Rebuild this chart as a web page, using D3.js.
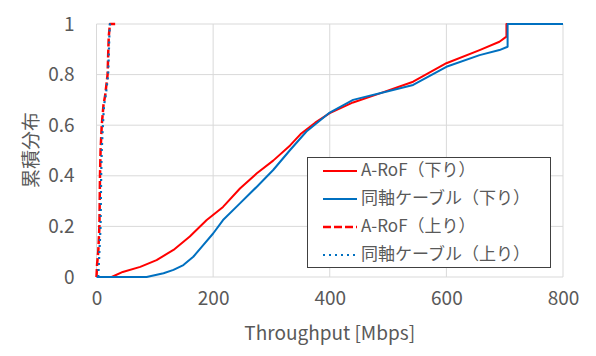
<!DOCTYPE html>
<html><head><meta charset="utf-8">
<script src="https://cdn.jsdelivr.net/npm/d3@7"></script>
<style>body{margin:0;background:#fff;} svg{display:block;}</style>
</head><body>
<svg id="c" width="596" height="356"></svg>
<script>
const xTicks = [0, 200, 400, 600, 800];
const yTicks = [0, 0.2, 0.4, 0.6, 0.8, 1];
const yTickLabels = ["0", "0.2", "0.4", "0.6", "0.8", "1"];
const seriesNames = ["A-RoF（下り）", "同軸ケーブル（下り）", "A-RoF（上り）", "同軸ケーブル（上り）"];

const downRoFX = [26, 45, 75, 103, 132, 160, 189, 217, 246, 275, 303, 332, 350, 375, 400, 440, 486, 543, 600, 657, 691, 703, 703, 800];
const downRoFY = [0, 0.02, 0.04, 0.067, 0.107, 0.16, 0.225, 0.277, 0.35, 0.41, 0.46, 0.52, 0.565, 0.61, 0.648, 0.69, 0.726, 0.772, 0.845, 0.897, 0.93, 0.95, 1, 1];
const downCoaxX = [0, 86, 115, 132, 149, 166, 183, 200, 217, 246, 275, 303, 332, 360, 400, 440, 486, 543, 600, 657, 691, 705, 705, 800];
const downCoaxY = [0, 0, 0.015, 0.028, 0.047, 0.08, 0.126, 0.172, 0.225, 0.291, 0.357, 0.423, 0.502, 0.575, 0.65, 0.70, 0.726, 0.759, 0.831, 0.877, 0.897, 0.91, 1, 1];
const upRoFX = [0, 1, 3, 5, 6, 7, 9, 12, 15, 19, 21, 23, 32];
const upRoFY = [0, 0.05, 0.1, 0.2, 0.4, 0.5, 0.6, 0.68, 0.72, 0.8, 0.95, 1, 1];
const upCoaxX = [3, 4, 5, 7, 8, 9, 11, 13, 16, 20, 22, 23, 26];
const upCoaxY = [0, 0.05, 0.1, 0.2, 0.4, 0.5, 0.6, 0.68, 0.72, 0.8, 0.95, 1, 1];

const svg = d3.select("#c");
const L = 96.5, R = 563, T = 24, B = 277;
const x = d3.scaleLinear().domain([0, 800]).range([L, R]);
const y = d3.scaleLinear().domain([0, 1]).range([B, T]);
const txt = "#595959";
const font = "'Noto Sans CJK JP', 'Noto Sans', sans-serif";

// gridlines
svg.append("g").selectAll("line").data(yTicks).join("line")
  .attr("x1", L).attr("x2", R).attr("y1", d => y(d)).attr("y2", d => y(d))
  .attr("stroke", "#d9d9d9").attr("stroke-width", 1);
svg.append("g").selectAll("line").data(xTicks).join("line")
  .attr("y1", T).attr("y2", B).attr("x1", d => x(d)).attr("x2", d => x(d))
  .attr("stroke", "#d9d9d9").attr("stroke-width", 1);

// axes labels via d3 axes
const xAxis = svg.append("g").attr("transform", `translate(0,${B})`)
  .call(d3.axisBottom(x).tickValues(xTicks).tickSize(0).tickPadding(15).tickFormat(d3.format("d")));
xAxis.select(".domain").remove();
xAxis.selectAll("text").attr("fill", txt).style("font-family", font).style("font-size", "19px");

const yAxis = svg.append("g").attr("transform", `translate(${L},0)`)
  .call(d3.axisLeft(y).tickValues(yTicks).tickSize(0).tickPadding(22).tickFormat((d, i) => yTickLabels[i]));
yAxis.select(".domain").remove();
yAxis.selectAll("text").attr("fill", txt).style("font-family", font).style("font-size", "19px");

// titles
svg.append("text").attr("x", (L + R) / 2).attr("y", 335).attr("text-anchor", "middle")
  .attr("dominant-baseline", "middle").attr("fill", txt)
  .style("font-family", font).style("font-size", "19px").text("Throughput [Mbps]");
svg.append("text").attr("transform", `translate(33,150) rotate(-90)`).attr("text-anchor", "middle")
  .attr("dominant-baseline", "middle").attr("fill", txt)
  .style("font-family", font).style("font-size", "19px").text("累積分布");

// series
const series = [
  {xs: downRoFX, ys: downRoFY, color: "#ff0000", dash: null, w: 2},
  {xs: downCoaxX, ys: downCoaxY, color: "#0070c0", dash: null, w: 2},
  {xs: upRoFX, ys: upRoFY, color: "#ff0000", dash: "8,3", w: 2.5},
  {xs: upCoaxX, ys: upCoaxY, color: "#0070c0", dash: "2,4", w: 2.2}
];
const line = d3.line().x(d => x(d[0])).y(d => y(d[1]));
series.forEach(s => {
  const pts = s.xs.map((v, i) => [v, s.ys[i]]);
  svg.append("path").datum(pts).attr("d", line).attr("fill", "none")
    .attr("stroke", s.color).attr("stroke-width", s.w)
    .attr("stroke-dasharray", s.dash).attr("stroke-linejoin", "round");
});

// legend
const lg = svg.append("g");
lg.append("rect").attr("x", 307.5).attr("y", 157.5).attr("width", 243).attr("height", 110)
  .attr("fill", "#fff").attr("stroke", "#404040").attr("stroke-width", 1);
const rowsY = [171, 199, 227, 255];
series.forEach((s, i) => {
  lg.append("line").attr("x1", 323).attr("x2", 357).attr("y1", rowsY[i]).attr("y2", rowsY[i])
    .attr("stroke", s.color).attr("stroke-width", s.w).attr("stroke-dasharray", s.dash);
  lg.append("text").attr("x", 361).attr("y", rowsY[i]).attr("dominant-baseline", "middle")
    .attr("fill", txt).style("font-family", font).style("font-size", "17px").text(seriesNames[i]);
});
</script>
</body></html>
